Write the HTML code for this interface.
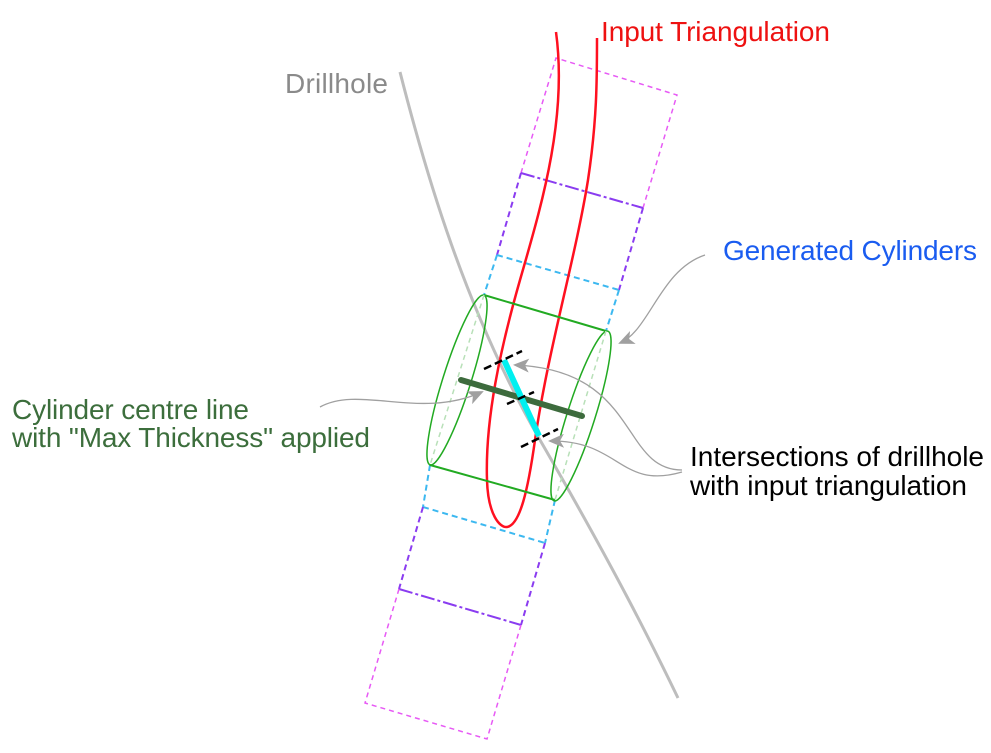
<!DOCTYPE html>
<html><head><style>
html,body{margin:0;padding:0;background:#fff;}
svg{display:block;}
text{font-family:"Liberation Sans",Arial,sans-serif;font-size:28px;}
</style></head><body>
<svg width="991" height="753" viewBox="0 0 991 753" xmlns="http://www.w3.org/2000/svg">
<defs>
<marker id="ah2" markerWidth="16" markerHeight="14" refX="14" refY="7" orient="auto" markerUnits="userSpaceOnUse" viewBox="0 0 16 14">
<path d="M0,0 L16,7 L0,14 L4,7 Z" fill="#a0a0a0"/>
</marker>
</defs>
<g fill="none" stroke-width="1.5">
<path d="M521,173 L556,58 L677,95 L643,208" stroke="#e75af5" stroke-dasharray="5,4"/>
<path d="M521,173 L643,208" stroke="#8a3cf0" stroke-width="2" stroke-dasharray="14,3,3,3"/>
<path d="M521,173 L497,255 M643,208 L619,290" stroke="#8a3cf0" stroke-width="2" stroke-dasharray="6,4"/>
<path d="M497,255 L619,290" stroke="#3cb8f0" stroke-width="2" stroke-dasharray="6,4"/>
<path d="M497,255 L484,295 M619,290 L606,331 M430,465 L423,507 M555,500 L545,543" stroke="#3cb8f0" stroke-width="2" stroke-dasharray="6,4"/>
<path d="M423,507 L545,543" stroke="#3cb8f0" stroke-width="2" stroke-dasharray="6,4"/>
<path d="M423,507 L399,589 M545,543 L521,625" stroke="#8a3cf0" stroke-width="2" stroke-dasharray="6,4"/>
<path d="M399,589 L521,625" stroke="#8a3cf0" stroke-width="2" stroke-dasharray="14,3,3,3"/>
<path d="M399,589 L365,703 L487,739 L521,625" stroke="#e75af5" stroke-dasharray="5,4"/>
</g>
<path d="M400,72 C425,170 465,310 540,440 S650,640 678,698" fill="none" stroke="#bdbdbd" stroke-width="3"/>
<path d="M556,32 C568,120 540,210 520,280 C500,350 485,420 487,480 C488,515 500,528 507,527 C520,525 528,490 535,440 C548,350 575,260 588,180 C597,120 597,80 597,38" fill="none" stroke="#ff1020" stroke-width="2.5"/>
<g fill="none" stroke="#22aa22" stroke-width="1.5">
<ellipse cx="457" cy="380" rx="89" ry="14" transform="rotate(107.6 457 380)"/>
<ellipse cx="581" cy="416" rx="89" ry="14" transform="rotate(107.6 581 416)"/>
<path d="M484,295 L606,331 M430,465 L555,500" stroke-width="2"/>
<path d="M484,295 L430,465 M606,331 L555,500" stroke="#b8e0b8" stroke-dasharray="5,4"/>
</g>
<line x1="461" y1="380" x2="582" y2="416" stroke="#3d6b3d" stroke-width="6" stroke-linecap="round"/>
<line x1="504" y1="360" x2="539" y2="436" stroke="#00f0f0" stroke-width="6"/>
<g stroke="#000" stroke-width="2.5" stroke-dasharray="8,4">
<line x1="484" y1="369" x2="522" y2="351"/>
<line x1="507" y1="404" x2="534" y2="392"/>
<line x1="521" y1="447" x2="558" y2="429"/>
</g>
<g fill="none" stroke="#a0a0a0" stroke-width="1.3">
<path d="M705,255 C660,270 650,330 620,343" marker-end="url(#ah2)"/>
<path d="M320,407 C360,385 420,420 482,392" marker-end="url(#ah2)"/>
<path d="M682,470 C620,470 640,370 515,365" marker-end="url(#ah2)"/>
<path d="M682,472 C620,490 620,440 550,441" marker-end="url(#ah2)"/>
</g>
<text x="601" y="41" fill="#ee1111" textLength="229">Input Triangulation</text>
<text x="285" y="93" fill="#8a8a8a" textLength="103">Drillhole</text>
<text x="723" y="260" fill="#1a5cf0" textLength="254">Generated Cylinders</text>
<text x="12" y="419" fill="#3c6e3c" textLength="237">Cylinder centre line</text>
<text x="12" y="447" fill="#3c6e3c" textLength="358">with "Max Thickness" applied</text>
<text x="690" y="466" fill="#000" textLength="294">Intersections of drillhole</text>
<text x="690" y="495" fill="#000" textLength="277">with input triangulation</text>
</svg>
</body></html>
